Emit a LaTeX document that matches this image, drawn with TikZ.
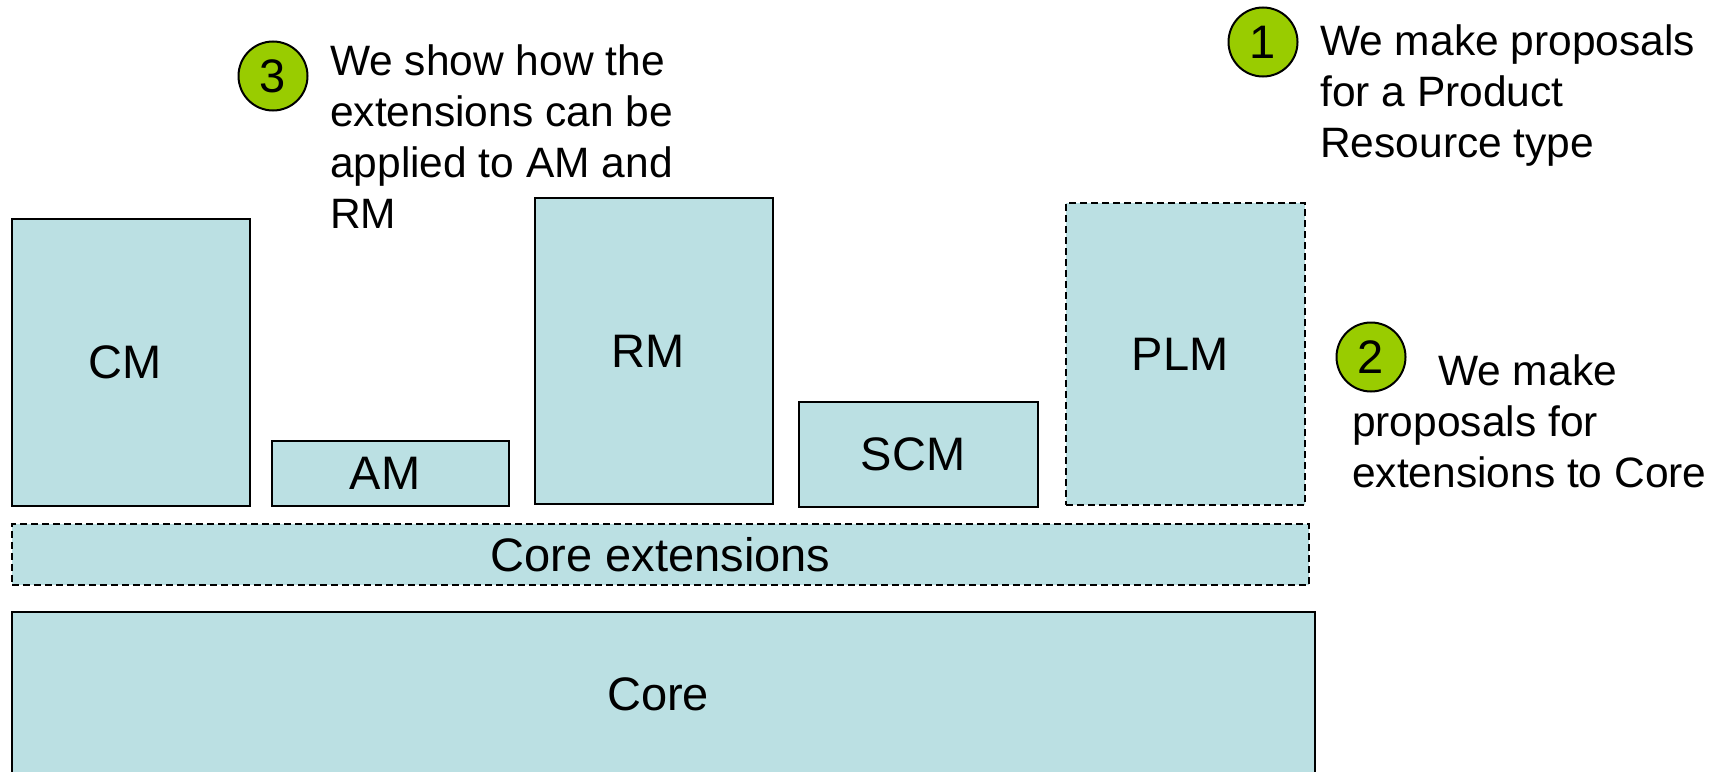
\documentclass[tikz,border=0pt]{standalone}
\usepackage{fontspec}
\setmainfont{Liberation Sans}
\definecolor{boxfill}{RGB}{187,224,227}
\definecolor{stepgreen}{RGB}{153,204,0}
% label text sits a little left of the box centre
\newcommand{\lbl}[1]{#1\hspace*{11pt}}
\begin{document}
\begin{tikzpicture}[x=1pt,y=-1pt,
  module/.style={draw=black,line width=1.8pt,fill=boxfill,inner sep=0pt,
    font=\fontsize{47}{56}\selectfont},
  optmodule/.style={module,line width=1.5pt,dash pattern=on 7pt off 4pt},
  badge/.style={circle,draw=black,line width=2pt,fill=stepgreen,inner sep=0pt,
    minimum size=69pt,font=\fontsize{47}{56}\selectfont},
  note/.style={inner sep=0pt,align=left,anchor=base west,
    font=\fontsize{42.5}{51}\selectfont}]
\clip (0,0) rectangle (1724,771);
\useasboundingbox (0,0) rectangle (1724,771);
\fill[white] (0,0) rectangle (1724,771);

% application modules on top of the core
\node[module,minimum width=238pt,minimum height=287pt] (cm)  at (131,362.5) {\lbl{CM}};
\node[module,minimum width=237pt,minimum height=65pt]  (am)  at (390.5,473.5) {\lbl{AM}};
\node[module,minimum width=238pt,minimum height=306pt] (rm)  at (654,351) {\lbl{RM}};
\node[module,minimum width=239pt,minimum height=105pt] (scm) at (918.5,454.5) {\lbl{SCM}};
\node[optmodule,minimum width=239pt,minimum height=302pt] (plm) at (1185.5,354) {\lbl{PLM}};

% core layers
\node[optmodule,minimum width=1297pt,minimum height=61pt] (coreext) at (660.5,554.5) {Core extensions};
\node[module,minimum width=1303pt,minimum height=164pt] (core) at (663.5,694) {\lbl{Core}};

% numbered notes (anchored on the baseline of their last line)
\node[badge] (b3) at (273,76) {3};
\node[note] (n3) at (330,228) {We show how the\\extensions can be\\applied to AM and\\RM};

\node[badge] (b1) at (1263,42) {1};
\node[note] (n1) at (1320,157) {We make proposals\\for a Product\\Resource type};

\node[badge] (b2) at (1371,357) {2};
\node[note] (n2) at (1352,487) {\hspace*{86pt}We make\\proposals for\\extensions to Core};
\end{tikzpicture}
\end{document}
